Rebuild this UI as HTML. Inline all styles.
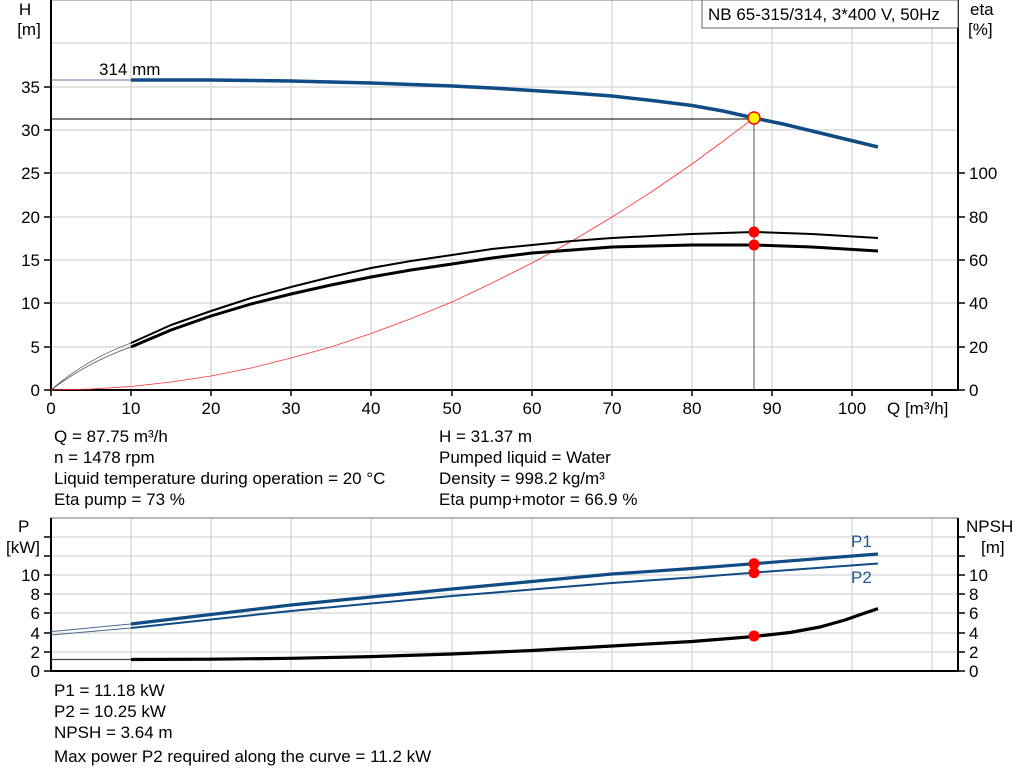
<!DOCTYPE html>
<html><head><meta charset="utf-8"><style>
body{margin:0;background:#fff;}
svg{display:block;font-family:"Liberation Sans",Arial,sans-serif;}
</style></head><body>
<svg width="1024" height="781" viewBox="0 0 1024 781" xmlns="http://www.w3.org/2000/svg">
<g stroke="#d3d3d3" stroke-width="1.2">
<line x1="131" y1="0" x2="131" y2="390"/><line x1="211" y1="0" x2="211" y2="390"/><line x1="291" y1="0" x2="291" y2="390"/><line x1="371" y1="0" x2="371" y2="390"/><line x1="452" y1="0" x2="452" y2="390"/><line x1="532" y1="0" x2="532" y2="390"/><line x1="612" y1="0" x2="612" y2="390"/><line x1="692" y1="0" x2="692" y2="390"/><line x1="772" y1="0" x2="772" y2="390"/><line x1="852" y1="0" x2="852" y2="390"/><line x1="932" y1="0" x2="932" y2="390"/>
<line x1="51" y1="347" x2="958" y2="347"/><line x1="51" y1="303" x2="958" y2="303"/><line x1="51" y1="260" x2="958" y2="260"/><line x1="51" y1="217" x2="958" y2="217"/><line x1="51" y1="173" x2="958" y2="173"/><line x1="51" y1="130" x2="958" y2="130"/><line x1="51" y1="87" x2="958" y2="87"/><line x1="51" y1="43" x2="958" y2="43"/>
<line x1="131" y1="518" x2="131" y2="671"/><line x1="211" y1="518" x2="211" y2="671"/><line x1="291" y1="518" x2="291" y2="671"/><line x1="371" y1="518" x2="371" y2="671"/><line x1="452" y1="518" x2="452" y2="671"/><line x1="532" y1="518" x2="532" y2="671"/><line x1="612" y1="518" x2="612" y2="671"/><line x1="692" y1="518" x2="692" y2="671"/><line x1="772" y1="518" x2="772" y2="671"/><line x1="852" y1="518" x2="852" y2="671"/><line x1="932" y1="518" x2="932" y2="671"/>
<line x1="51" y1="652" x2="958" y2="652"/><line x1="51" y1="633" x2="958" y2="633"/><line x1="51" y1="613" x2="958" y2="613"/><line x1="51" y1="594" x2="958" y2="594"/><line x1="51" y1="575" x2="958" y2="575"/><line x1="51" y1="556" x2="958" y2="556"/><line x1="51" y1="537" x2="958" y2="537"/>
</g>
<rect x="51" y="0" width="907" height="390" fill="none" stroke="#777" stroke-width="1"/>
<line x1="51" y1="0" x2="51" y2="391" stroke="#000" stroke-width="2"/>
<line x1="958" y1="0" x2="958" y2="391" stroke="#000" stroke-width="2"/>
<line x1="50" y1="390" x2="959" y2="390" stroke="#000" stroke-width="2"/>
<g stroke="#000" stroke-width="1.5">
<line x1="44" y1="390" x2="51" y2="390"/><line x1="44" y1="347" x2="51" y2="347"/><line x1="44" y1="303" x2="51" y2="303"/><line x1="44" y1="260" x2="51" y2="260"/><line x1="44" y1="217" x2="51" y2="217"/><line x1="44" y1="173" x2="51" y2="173"/><line x1="44" y1="130" x2="51" y2="130"/><line x1="44" y1="87" x2="51" y2="87"/>
<line x1="958" y1="390" x2="965" y2="390"/><line x1="958" y1="347" x2="965" y2="347"/><line x1="958" y1="303" x2="965" y2="303"/><line x1="958" y1="260" x2="965" y2="260"/><line x1="958" y1="217" x2="965" y2="217"/><line x1="958" y1="173" x2="965" y2="173"/>
<line x1="51" y1="390" x2="51" y2="396"/><line x1="131" y1="390" x2="131" y2="396"/><line x1="211" y1="390" x2="211" y2="396"/><line x1="291" y1="390" x2="291" y2="396"/><line x1="371" y1="390" x2="371" y2="396"/><line x1="452" y1="390" x2="452" y2="396"/><line x1="532" y1="390" x2="532" y2="396"/><line x1="612" y1="390" x2="612" y2="396"/><line x1="692" y1="390" x2="692" y2="396"/><line x1="772" y1="390" x2="772" y2="396"/><line x1="852" y1="390" x2="852" y2="396"/><line x1="932" y1="390" x2="932" y2="396"/>
</g>
<g font-size="17" fill="#000">
<text x="25" y="15" text-anchor="middle">H</text><text x="29" y="35" text-anchor="middle">[m]</text>
<g text-anchor="end"><text x="40" y="396">0</text><text x="40" y="353">5</text><text x="40" y="309">10</text><text x="40" y="266">15</text><text x="40" y="223">20</text><text x="40" y="179">25</text><text x="40" y="136">30</text><text x="40" y="93">35</text></g>
<text x="969" y="396">0</text><text x="969" y="353">20</text><text x="969" y="309">40</text><text x="969" y="266">60</text><text x="969" y="223">80</text><text x="969" y="179">100</text>
<text x="970" y="15">eta</text><text x="968" y="35">[%]</text>
<g text-anchor="middle"><text x="51" y="414">0</text><text x="131" y="414">10</text><text x="211" y="414">20</text><text x="291" y="414">30</text><text x="371" y="414">40</text><text x="452" y="414">50</text><text x="532" y="414">60</text><text x="612" y="414">70</text><text x="692" y="414">80</text><text x="772" y="414">90</text><text x="852" y="414">100</text></g>
<text x="887" y="414">Q [m³/h]</text>
<text x="99" y="75">314 mm</text>
</g>
<rect x="702" y="0" width="256" height="28" fill="#fff" stroke="#666"/>
<text x="708" y="20" font-size="17">NB 65-315/314, 3*400 V, 50Hz</text>
<line x1="51" y1="119" x2="754" y2="119" stroke="#000" stroke-width="1"/>
<line x1="754" y1="119" x2="754" y2="390" stroke="#555" stroke-width="1"/>
<polyline fill="none" stroke="#ff3030" stroke-width="0.8" points="51,390 91,389 131,386.5 171,382 211,376 251,368 291,358 331,347 371,333.5 411,318.6 452,302 492,283 532,263 572,241 612,217 652,191.5 692,164 722,142 754,118"/>
<line x1="51" y1="80" x2="131" y2="80" stroke="#5a7ca0" stroke-width="1"/>
<polyline fill="none" stroke="#0f4c85" stroke-width="3.5" stroke-linejoin="round" points="131,80 171,80 211,80 251,80.5 291,81 331,82 371,83 411,84.5 452,86 492,88 532,90.5 572,93 612,96 652,100.5 692,105.5 723,111 754,118 783,124 812,131 845,139 878,147"/>
<path d="M51,390 Q85,360 131,343 M51,390 Q88,362 131,347" fill="none" stroke="#555" stroke-width="0.8"/>
<polyline fill="none" stroke="#000" stroke-width="2" stroke-linejoin="round" points="131,343 171,325 211,311 251,298 291,287 331,277 371,268 411,261 452,255 492,249 532,245 572,241 612,238 652,236 692,234 754,232 812,234 878,238"/>
<polyline fill="none" stroke="#000" stroke-width="3" stroke-linejoin="round" points="131,347 171,330 211,316 251,304 291,294 331,285 371,277 411,270 452,264 492,258 532,253 572,250 612,247 652,246 692,245 754,245 812,247 878,251"/>
<circle cx="754" cy="232" r="5.5" fill="#ff0000"/>
<circle cx="754" cy="245" r="5.5" fill="#ff0000"/>
<circle cx="754" cy="118" r="6" fill="#ffff00" stroke="#ff0000" stroke-width="1.5"/>
<g font-size="17" fill="#000">
<text x="54" y="442">Q = 87.75 m³/h</text><text x="54" y="463">n = 1478 rpm</text><text x="54" y="484">Liquid temperature during operation = 20 °C</text><text x="54" y="505">Eta pump = 73 %</text>
<text x="439" y="442">H = 31.37 m</text><text x="439" y="463">Pumped liquid = Water</text><text x="439" y="484">Density = 998.2 kg/m³</text><text x="439" y="505">Eta pump+motor = 66.9 %</text>
</g>
<rect x="51" y="518" width="907" height="153" fill="none" stroke="#777" stroke-width="1"/>
<line x1="51" y1="518" x2="51" y2="672" stroke="#000" stroke-width="2"/>
<line x1="958" y1="518" x2="958" y2="672" stroke="#000" stroke-width="2"/>
<line x1="50" y1="671" x2="959" y2="671" stroke="#000" stroke-width="2"/>
<g stroke="#000" stroke-width="1.5">
<line x1="44" y1="671" x2="51" y2="671"/><line x1="44" y1="652" x2="51" y2="652"/><line x1="44" y1="633" x2="51" y2="633"/><line x1="44" y1="613" x2="51" y2="613"/><line x1="44" y1="594" x2="51" y2="594"/><line x1="44" y1="575" x2="51" y2="575"/><line x1="44" y1="556" x2="51" y2="556"/><line x1="44" y1="537" x2="51" y2="537"/>
<line x1="958" y1="671" x2="965" y2="671"/><line x1="958" y1="652" x2="965" y2="652"/><line x1="958" y1="633" x2="965" y2="633"/><line x1="958" y1="613" x2="965" y2="613"/><line x1="958" y1="594" x2="965" y2="594"/><line x1="958" y1="575" x2="965" y2="575"/><line x1="958" y1="556" x2="965" y2="556"/><line x1="958" y1="537" x2="965" y2="537"/>
</g>
<g font-size="17" fill="#000">
<text x="18" y="532">P</text><text x="6" y="553">[kW]</text>
<g text-anchor="end"><text x="40" y="677">0</text><text x="40" y="658">2</text><text x="40" y="639">4</text><text x="40" y="619">6</text><text x="40" y="600">8</text><text x="40" y="581">10</text></g>
<text x="969" y="677">0</text><text x="969" y="658">2</text><text x="969" y="639">4</text><text x="969" y="619">6</text><text x="969" y="600">8</text><text x="969" y="581">10</text>
<text x="966" y="532">NPSH</text><text x="981" y="553">[m]</text>
</g>
<text x="851" y="547" font-size="17" fill="#1f5a95">P1</text>
<text x="851" y="583" font-size="17" fill="#1f5a95">P2</text>
<line x1="51" y1="631.6" x2="131" y2="624" stroke="#4a6a90" stroke-width="1"/>
<line x1="51" y1="635" x2="131" y2="628" stroke="#4a6a90" stroke-width="1"/>
<polyline fill="none" stroke="#0f4c85" stroke-width="3.2" stroke-linejoin="round" points="131,624 211,614.5 291,605 371,597 452,589 532,581.5 612,574 692,568.5 754,563.7 878,554"/>
<polyline fill="none" stroke="#0f4c85" stroke-width="2" stroke-linejoin="round" points="131,628 211,619.5 291,611 371,603.5 452,596 532,589.5 612,583 692,577.5 754,572.6 878,563.5"/>
<line x1="51" y1="659.5" x2="131" y2="659.5" stroke="#444" stroke-width="1.2"/>
<polyline fill="none" stroke="#000" stroke-width="3.2" stroke-linejoin="round" points="131,659.5 211,659.2 291,658.3 371,656.6 452,654 532,650.5 612,646 692,641.5 754,636.5 790,632.5 820,627 845,620 862,614 878,608.6"/>
<circle cx="754" cy="563.7" r="5.5" fill="#ff0000"/>
<circle cx="754" cy="572.6" r="5.5" fill="#ff0000"/>
<circle cx="754" cy="636" r="5.5" fill="#ff0000"/>
<g font-size="17" fill="#000">
<text x="54" y="696">P1 = 11.18 kW</text><text x="54" y="717">P2 = 10.25 kW</text><text x="54" y="738">NPSH = 3.64 m</text><text x="54" y="762">Max power P2 required along the curve = 11.2 kW</text>
</g>
</svg>
</body></html>
